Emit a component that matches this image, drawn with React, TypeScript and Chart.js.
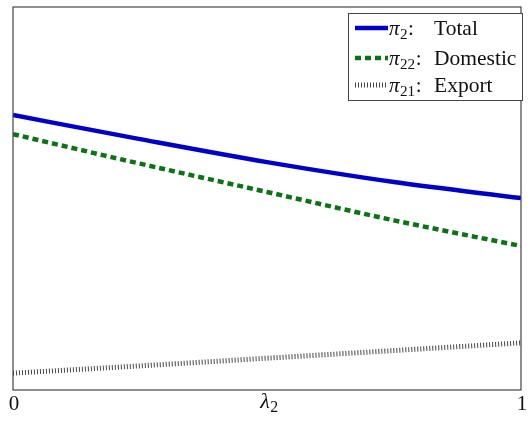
import React, { useEffect, useRef } from "react";
import { Chart, registerables } from "chart.js";

Chart.register(...registerables);

const lambdaValues = [0, 0.25, 0.5, 0.75, 1];
const totalValues = [0.718, 0.655, 0.595, 0.543, 0.501];
const domesticValues = [0.668, 0.591, 0.517, 0.443, 0.376];
const exportValues = [0.044, 0.063, 0.083, 0.103, 0.123];
const xTickLabels = ["0", "1"];
const xTickValues = [0, 1];
const xAxisLabel = "λ";
const xAxisSub = "2";
const legendItems = [
  { sym: "π", sub: "2", label: "Total" },
  { sym: "π", sub: "22", label: "Domestic" },
  { sym: "π", sub: "21", label: "Export" },
];

const COLORS = ["rgb(0,0,200)", "rgb(10,115,20)", "rgb(70,70,70)"];
const WIDTHS = [4.5, 4.5, 5];
const DASHES: number[][] = [[], [6, 4], [1, 2]];

const SERIF = '"Liberation Serif", "DejaVu Serif", serif';

function drawSym(ctx: CanvasRenderingContext2D, x: number, y: number, main: string, sub: string, tail: string, size: number, align: "left" | "center") {
  ctx.save();
  ctx.textAlign = "left";
  ctx.textBaseline = "alphabetic";
  ctx.font = `italic ${size}px ${SERIF}`;
  const w1 = ctx.measureText(main).width;
  ctx.font = `${size * 0.72}px ${SERIF}`;
  const w2 = ctx.measureText(sub).width;
  let sx = x;
  if (align === "center") sx = x - (w1 + w2) / 2;
  ctx.fillStyle = "#111";
  ctx.font = `italic ${size}px ${SERIF}`;
  ctx.fillText(main, sx, y);
  ctx.font = `${size * 0.72}px ${SERIF}`;
  ctx.fillText(sub, sx + w1 + 0.5, y + size * 0.2);
  if (tail) {
    ctx.font = `${size}px ${SERIF}`;
    ctx.fillText(tail, sx + w1 + w2 + 1, y);
  }
  ctx.restore();
}

const framePlugin = {
  id: "framePlugin",
  afterDraw(chart: any) {
    const { ctx, chartArea } = chart;
    const xs = chart.scales.x;
    ctx.save();
    ctx.strokeStyle = "#444";
    ctx.lineWidth = 1.2;
    ctx.strokeRect(chartArea.left, chartArea.top, chartArea.right - chartArea.left, chartArea.bottom - chartArea.top);
    ctx.fillStyle = "#111";
    ctx.font = `21px ${SERIF}`;
    ctx.textAlign = "center";
    ctx.textBaseline = "alphabetic";
    xTickValues.forEach((v, i) => {
      ctx.fillText(xTickLabels[i], xs.getPixelForValue(v) + 1, chartArea.bottom + 20);
    });
    drawSym(ctx, (chartArea.left + chartArea.right) / 2 + 2, chartArea.bottom + 18, xAxisLabel, xAxisSub, "", 22, "center");
    const bx = 348, by = 13, bw = 174, bh = 87;
    ctx.fillStyle = "#fff";
    ctx.fillRect(bx, by, bw, bh);
    ctx.strokeStyle = "#444";
    ctx.lineWidth = 1;
    ctx.strokeRect(bx + 0.5, by + 0.5, bw, bh);
    const baselines = [35, 65, 92];
    legendItems.forEach((it, i) => {
      const y = baselines[i];
      ctx.save();
      ctx.strokeStyle = COLORS[i];
      ctx.lineWidth = WIDTHS[i];
      ctx.setLineDash(DASHES[i]);
      ctx.beginPath();
      ctx.moveTo(355, y - 7);
      ctx.lineTo(388, y - 7);
      ctx.stroke();
      ctx.restore();
      drawSym(ctx, 389, y, it.sym, it.sub, ":", 21, "left");
      ctx.save();
      ctx.fillStyle = "#111";
      ctx.textAlign = "left";
      ctx.textBaseline = "alphabetic";
      ctx.font = `21.5px ${SERIF}`;
      ctx.fillText(it.label, 434, y);
      ctx.restore();
    });
    ctx.restore();
  },
};

export default function App() {
  const ref = useRef<HTMLCanvasElement | null>(null);
  useEffect(() => {
    document.body.style.margin = "0";
    const canvas = ref.current;
    if (!canvas) return;
    const mk = (data: number[], i: number) => ({
      data: lambdaValues.map((x, k) => ({ x, y: data[k] })),
      borderColor: COLORS[i],
      borderWidth: WIDTHS[i],
      borderDash: DASHES[i],
      pointRadius: 0,
      cubicInterpolationMode: "monotone" as const,
      fill: false,
    });
    const chart = new Chart(canvas, {
      type: "line",
      data: {
        datasets: [mk(totalValues, 0), mk(domesticValues, 1), mk(exportValues, 2)],
      },
      options: {
        responsive: false,
        animation: false,
        layout: { padding: { left: 13, right: 9, top: 7, bottom: 33 } },
        plugins: { legend: { display: false }, tooltip: { enabled: false } },
        scales: {
          x: { type: "linear", min: 0, max: 1, display: false },
          y: { type: "linear", min: 0, max: 1, display: false },
        },
      },
      plugins: [framePlugin],
    });
    return () => chart.destroy();
  }, []);
  return (
    <div style={{ width: 530, height: 423, background: "#fff" }}>
      <canvas ref={ref} width={530} height={423} />
    </div>
  );
}
